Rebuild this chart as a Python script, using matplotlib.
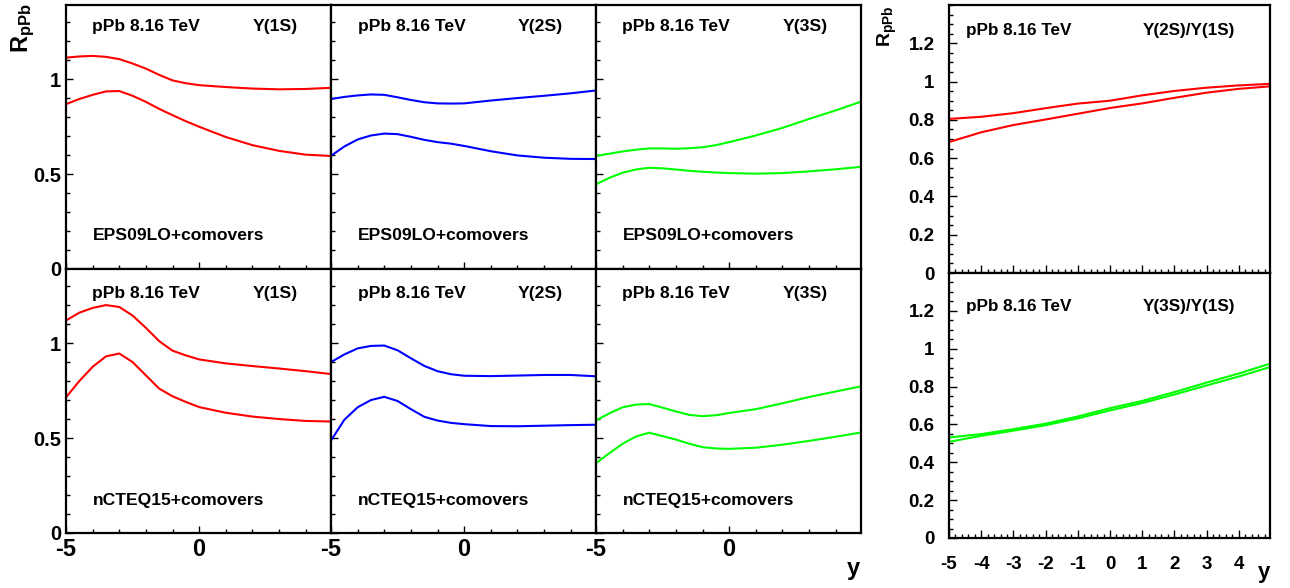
import matplotlib
matplotlib.use('Agg')
import matplotlib.pyplot as plt
from matplotlib.ticker import FixedLocator, MultipleLocator, NullFormatter, FixedFormatter

plt.rcParams['font.family'] = ['Liberation Sans', 'DejaVu Sans']
plt.rcParams['font.weight'] = 'bold'
plt.rcParams['mathtext.fontset'] = 'custom'
plt.rcParams['mathtext.rm'] = 'Liberation Sans:bold'
plt.rcParams['mathtext.it'] = 'Liberation Sans:bold'
plt.rcParams['mathtext.bf'] = 'Liberation Sans:bold'

# ---------------- data ----------------
y_grid = [-5, -4.5, -4, -3.5, -3, -2.5, -2, -1.5, -1, -0.5, 0, 1, 2, 3, 4, 4.95]

# EPS09LO + comovers
eps_1s_hi = [1.113, 1.119, 1.122, 1.117, 1.105, 1.082, 1.055, 1.022, 0.993, 0.978, 0.968, 0.958, 0.950, 0.946, 0.948, 0.954]
eps_1s_lo = [0.868, 0.895, 0.917, 0.935, 0.937, 0.912, 0.880, 0.843, 0.810, 0.778, 0.749, 0.695, 0.652, 0.622, 0.602, 0.595]
eps_2s_hi = [0.895, 0.906, 0.914, 0.919, 0.917, 0.904, 0.890, 0.878, 0.872, 0.871, 0.872, 0.887, 0.900, 0.912, 0.925, 0.940]
eps_2s_lo = [0.596, 0.645, 0.682, 0.703, 0.713, 0.710, 0.696, 0.680, 0.668, 0.660, 0.648, 0.620, 0.598, 0.586, 0.580, 0.579]
eps_3s_hi = [0.595, 0.607, 0.619, 0.628, 0.635, 0.635, 0.633, 0.636, 0.641, 0.652, 0.668, 0.703, 0.743, 0.790, 0.835, 0.881]
eps_3s_lo = [0.446, 0.480, 0.507, 0.524, 0.533, 0.530, 0.524, 0.517, 0.512, 0.508, 0.505, 0.502, 0.505, 0.514, 0.525, 0.538]

# nCTEQ15 + comovers
nct_1s_hi = [1.119, 1.160, 1.185, 1.200, 1.190, 1.145, 1.080, 1.010, 0.960, 0.935, 0.914, 0.893, 0.879, 0.866, 0.852, 0.837]
nct_1s_lo = [0.714, 0.800, 0.875, 0.930, 0.945, 0.900, 0.830, 0.760, 0.720, 0.690, 0.663, 0.633, 0.613, 0.600, 0.590, 0.587]
nct_2s_hi = [0.900, 0.940, 0.972, 0.985, 0.987, 0.962, 0.920, 0.880, 0.852, 0.836, 0.828, 0.826, 0.829, 0.832, 0.832, 0.825]
nct_2s_lo = [0.487, 0.596, 0.662, 0.700, 0.717, 0.695, 0.652, 0.612, 0.592, 0.580, 0.573, 0.563, 0.562, 0.565, 0.568, 0.570]
nct_3s_hi = [0.593, 0.630, 0.662, 0.676, 0.679, 0.660, 0.640, 0.622, 0.615, 0.620, 0.632, 0.652, 0.683, 0.716, 0.745, 0.772]
nct_3s_lo = [0.368, 0.420, 0.470, 0.508, 0.528, 0.510, 0.492, 0.470, 0.452, 0.445, 0.443, 0.449, 0.465, 0.485, 0.507, 0.529]

# double ratios
y_ratio = [-5, -4, -3, -2, -1, 0, 1, 2, 3, 4, 4.97]
r21_hi = [0.805, 0.816, 0.835, 0.861, 0.885, 0.900, 0.928, 0.951, 0.968, 0.980, 0.988]
r21_lo = [0.684, 0.735, 0.773, 0.802, 0.832, 0.862, 0.886, 0.915, 0.942, 0.962, 0.975]
r31_hi = [0.531, 0.549, 0.575, 0.604, 0.642, 0.686, 0.724, 0.771, 0.821, 0.869, 0.921]
r31_lo = [0.508, 0.540, 0.567, 0.596, 0.632, 0.674, 0.713, 0.758, 0.806, 0.853, 0.903]

states = ['Y(1S)', 'Y(2S)', 'Y(3S)']
models = ['EPS09LO+comovers', 'nCTEQ15+comovers']
energy_label = 'pPb 8.16 TeV'
ratio_labels = ['Y(2S)/Y(1S)', 'Y(3S)/Y(1S)']
colors = ['#ff0000', '#0000ff', '#00ff00']

rows = [
    [(eps_1s_hi, eps_1s_lo), (eps_2s_hi, eps_2s_lo), (eps_3s_hi, eps_3s_lo)],
    [(nct_1s_hi, nct_1s_lo), (nct_2s_hi, nct_2s_lo), (nct_3s_hi, nct_3s_lo)],
]
ratios = [(r21_hi, r21_lo), (r31_hi, r31_lo)]

# ---------------- figure ----------------
W, H = 1290, 588
fig = plt.figure(figsize=(W / 100, H / 100), dpi=100)

def frac(x0, y0, x1, y1):
    return [x0 / W, 1 - y1 / H, (x1 - x0) / W, (y1 - y0) / H]

LW_SPINE = 1.6
LW_CURVE = 1.5

def style_axes(ax):
    for s in ax.spines.values():
        s.set_linewidth(LW_SPINE)
    ax.tick_params(which='both', direction='in', top=False, right=False,
                   width=1.0, color='black')

px_left = [66, 331, 596, 861]
py_rows = [(5, 269), (269, 533)]

for r in range(2):
    for c in range(3):
        ax = fig.add_axes(frac(px_left[c], py_rows[r][0], px_left[c + 1], py_rows[r][1]))
        style_axes(ax)
        hi, lo = rows[r][c]
        ax.plot(y_grid, hi, color=colors[c], lw=LW_CURVE)
        ax.plot(y_grid, lo, color=colors[c], lw=LW_CURVE)
        ax.set_xlim(-5, 4.95)
        ax.set_ylim(0, 1.39)
        ax.xaxis.set_major_locator(FixedLocator([-5, 0]))
        ax.xaxis.set_minor_locator(MultipleLocator(1))
        ax.yaxis.set_major_locator(FixedLocator([0, 0.5, 1]))
        ax.yaxis.set_minor_locator(MultipleLocator(0.1))
        ax.tick_params(which='major', length=5)
        ax.tick_params(which='minor', length=2.6)
        if c == 0:
            ax.yaxis.set_major_formatter(FixedFormatter(['0', '0.5', '1']))
            ax.tick_params(axis='y', labelsize=14.5, pad=3.6)
        else:
            ax.yaxis.set_major_formatter(NullFormatter())
        if r == 1:
            ax.xaxis.set_major_formatter(FixedFormatter(['-5', '0']))
            ax.tick_params(axis='x', labelsize=17, pad=3.5)
        else:
            ax.xaxis.set_major_formatter(NullFormatter())
        for lab in ax.get_xticklabels() + ax.get_yticklabels():
            lab.set_fontweight('bold')
        ty = 0.917 if r == 0 else 0.909
        ax.text(0.10, ty, energy_label, transform=ax.transAxes, fontsize=12.6,
                fontweight='bold', ha='left', va='center')
        ax.text(0.705, ty, states[c], transform=ax.transAxes, fontsize=12.6,
                fontweight='bold', ha='left', va='center')
        ax.text(0.10, 0.125, models[r], transform=ax.transAxes, fontsize=12.6,
                fontweight='bold', ha='left', va='center')

# right-hand ratio panels
rp = [(5, 273), (273, 538)]
for r in range(2):
    ax = fig.add_axes(frac(949, rp[r][0], 1270, rp[r][1]))
    style_axes(ax)
    hi, lo = ratios[r]
    col = colors[0] if r == 0 else colors[2]
    ax.plot(y_ratio, hi, color=col, lw=LW_CURVE)
    ax.plot(y_ratio, lo, color=col, lw=LW_CURVE)
    ax.set_xlim(-5, 4.97)
    ax.set_ylim(0, 1.4)
    ax.xaxis.set_major_locator(FixedLocator([-5, -4, -3, -2, -1, 0, 1, 2, 3, 4]))
    ax.xaxis.set_minor_locator(MultipleLocator(0.2))
    ax.yaxis.set_major_locator(FixedLocator([0, 0.2, 0.4, 0.6, 0.8, 1.0, 1.2]))
    ax.yaxis.set_minor_locator(MultipleLocator(0.05))
    ax.tick_params(which='major', length=5.5)
    ax.tick_params(which='minor', length=2.8)
    ax.yaxis.set_major_formatter(FixedFormatter(['0', '0.2', '0.4', '0.6', '0.8', '1', '1.2']))
    ax.tick_params(axis='y', labelsize=13.5, pad=10.5)
    if r == 1:
        ax.xaxis.set_major_formatter(FixedFormatter(['-5', '-4', '-3', '-2', '-1', '0', '1', '2', '3', '4']))
        ax.tick_params(axis='x', labelsize=13.5, pad=13)
    else:
        ax.xaxis.set_major_formatter(NullFormatter())
    for lab in ax.get_xticklabels() + ax.get_yticklabels():
        lab.set_fontweight('bold')
    ty = 0.903 if r == 0 else 0.875
    ax.text(0.053, ty, energy_label, transform=ax.transAxes, fontsize=12.3,
            fontweight='bold', ha='left', va='center')
    ax.text(0.604, ty, ratio_labels[r], transform=ax.transAxes, fontsize=12.3,
            fontweight='bold', ha='left', va='center')

# axis titles
fig.text(23 / W, 1 - 3 / H, r'$\mathrm{R_{pPb}}$', rotation=90, ha='center', va='top', fontsize=17)
fig.text(887 / W, 1 - 5 / H, r'$\mathrm{R_{pPb}}$', rotation=90, ha='center', va='top', fontsize=14)
fig.text(853 / W, 1 - 580 / H, 'y', ha='center', va='bottom', fontsize=17, fontweight='bold')
fig.text(1264 / W, 1 - 583 / H, 'y', ha='center', va='bottom', fontsize=16, fontweight='bold')

fig.savefig('out.png', dpi=100)
